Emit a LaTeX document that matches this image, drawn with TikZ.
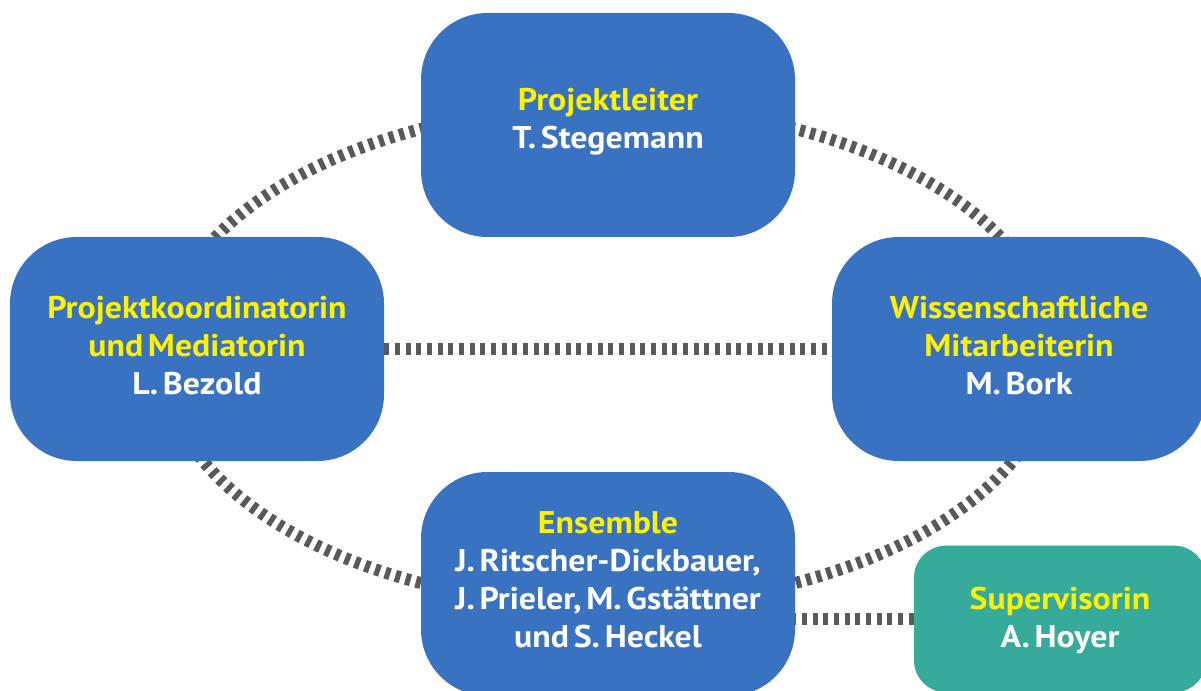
\documentclass[tikz,border=0pt]{standalone}
\usepackage{fontspec}
\setmainfont{PT Sans}[FakeStretch=1.08, WordSpace=0.55]
\frenchspacing
\usetikzlibrary{backgrounds}
\definecolor{boxblue}{RGB}{56,114,193}
\definecolor{boxteal}{RGB}{54,171,155}
\definecolor{titleyellow}{RGB}{255,242,0}
\definecolor{linkgray}{RGB}{89,89,89}
\tikzset{
  rolebox/.style={fill=boxblue, draw=none, rounded corners=50pt,
    minimum width=280.5pt, minimum height=168pt, inner sep=0pt},
  supbox/.style={rolebox, fill=boxteal, rounded corners=24pt,
    minimum width=219pt, minimum height=110pt},
  roletext/.style={align=center, text=white, inner sep=0pt,
    font=\bfseries\fontsize{23.5}{28.5}\selectfont},
  link/.style={draw=linkgray, line width=9pt, dash pattern=on 3.9pt off 4.1pt},
}
\begin{document}
\begin{tikzpicture}[x=0.75pt,y=-0.75pt]
\useasboundingbox (0,0) rectangle (1201,691);
\clip (0,0) rectangle (1201,691);
\node[rolebox] (lead) at (608,125) {};
\node[rolebox] (coord) at (197,349) {};
\node[rolebox] (wiss) at (1019,349) {};
\node[rolebox] (ens) at (608,584) {};
\node[supbox] (sup) at (1060,619) {};
\node[roletext] (leadtxt) at ([yshift=2.3pt]lead.center) {\textcolor{titleyellow}{Projektleiter}\\T. Stegemann};
\node[roletext] (coordtxt) at ([yshift=2.3pt]coord.center) {\textcolor{titleyellow}{Projektkoordinatorin}\\\textcolor{titleyellow}{und Mediatorin}\\L. Bezold};
\node[roletext] (wisstxt) at ([yshift=2.3pt]wiss.center) {\textcolor{titleyellow}{Wissenschaftliche}\\\textcolor{titleyellow}{Mitarbeiterin}\\M. Bork};
\node[roletext] (enstxt) at ([yshift=3pt]ens.center) {\textcolor{titleyellow}{Ensemble}\\J. Ritscher-Dickbauer,\\J. Prieler, M. Gstättner\\und S. Heckel};
\node[roletext] (suptxt) at ([yshift=-1pt]sup.center) {\textcolor{titleyellow}{Supervisorin}\\A. Hoyer};
\coordinate (ring) at (608,356);
\begin{scope}[on background layer]
\draw[link] (ring) ellipse [x radius=446, y radius=250];
\draw[link] (coord.east) -- (wiss.west);
\draw[link] (sup.west) -- (sup.west -| ens.east);
\end{scope}
\end{tikzpicture}
\end{document}
